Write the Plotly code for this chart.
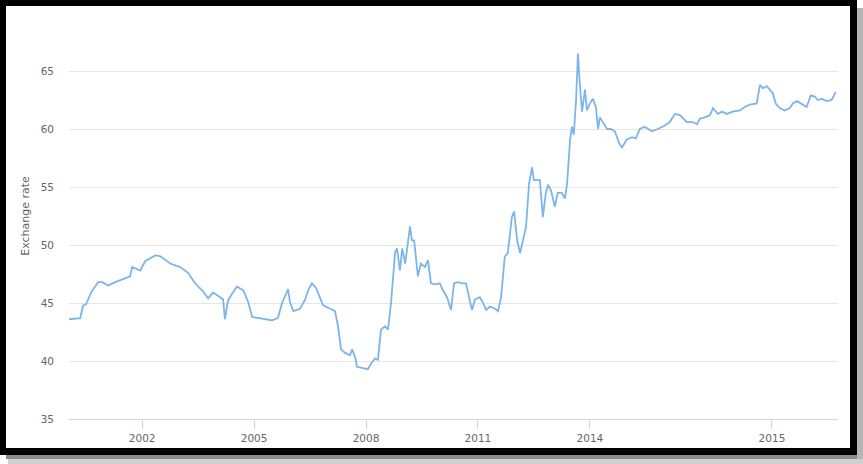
import plotly.graph_objects as go

# Time (decimal year) and exchange-rate values
years = [
    2000.04, 2000.34, 2000.42, 2000.50, 2000.63, 2000.82, 2000.93, 2001.09, 2001.28, 2001.54,
    2001.68, 2001.73, 2001.95, 2002.08, 2002.35, 2002.48, 2002.75, 2003.02, 2003.23, 2003.42,
    2003.63, 2003.77, 2003.90, 2004.09, 2004.17, 2004.22, 2004.30, 2004.41, 2004.54, 2004.71,
    2004.84, 2004.95, 2005.11, 2005.29, 2005.48, 2005.64, 2005.75, 2005.86, 2005.91, 2005.96,
    2006.05, 2006.23, 2006.37, 2006.45, 2006.55, 2006.66, 2006.77, 2006.85, 2007.04, 2007.17,
    2007.25, 2007.33, 2007.44, 2007.57, 2007.63, 2007.71, 2007.76, 2007.89, 2008.05, 2008.16,
    2008.24, 2008.32, 2008.40, 2008.51, 2008.59, 2008.67, 2008.78, 2008.83, 2008.91, 2008.97,
    2009.05, 2009.18, 2009.23, 2009.29, 2009.39, 2009.47, 2009.58, 2009.66, 2009.74, 2009.85,
    2009.98, 2010.06, 2010.17, 2010.28, 2010.36, 2010.47, 2010.57, 2010.68, 2010.76, 2010.84,
    2010.92, 2011.05, 2011.14, 2011.22, 2011.32, 2011.46, 2011.54, 2011.62, 2011.72, 2011.80,
    2011.86, 2011.91, 2011.97, 2012.05, 2012.13, 2012.21, 2012.29, 2012.37, 2012.45, 2012.50,
    2012.66, 2012.74, 2012.82, 2012.88, 2012.96, 2013.06, 2013.14, 2013.25, 2013.33, 2013.39,
    2013.47, 2013.52, 2013.57, 2013.63, 2013.68, 2013.73, 2013.79, 2013.87, 2013.92, 2014.00,
    2014.08, 2014.16, 2014.22, 2014.27, 2014.35, 2014.46, 2014.56, 2014.67, 2014.78, 2014.86,
    2014.99, 2015.13, 2015.23, 2015.34, 2015.47, 2015.66, 2015.82, 2016.01, 2016.14, 2016.28,
    2016.41, 2016.60, 2016.76, 2016.87, 2016.95, 2017.08, 2017.22, 2017.30, 2017.43, 2017.54,
    2017.67, 2017.83, 2018.02, 2018.15, 2018.29, 2018.47, 2018.56, 2018.64, 2018.74, 2018.82,
    2018.90, 2018.98, 2019.09, 2019.22, 2019.36, 2019.44, 2019.55, 2019.71, 2019.81, 2019.92,
    2020.03, 2020.11, 2020.22, 2020.35, 2020.48, 2020.59,
]
rates = [
    43.6, 43.7, 44.8, 44.9, 45.9, 46.8, 46.8, 46.5, 46.8, 47.1,
    47.3, 48.1, 47.8, 48.6, 49.1, 49.05, 48.4, 48.1, 47.6, 46.7,
    46.0, 45.4, 45.9, 45.5, 45.3, 43.6, 45.2, 45.8, 46.4, 46.1,
    45.1, 43.8, 43.7, 43.6, 43.5, 43.7, 45.0, 45.8, 46.2, 45.1,
    44.3, 44.5, 45.3, 46.1, 46.7, 46.3, 45.5, 44.8, 44.5, 44.3,
    43.0, 41.0, 40.7, 40.5, 41.0, 40.3, 39.5, 39.4, 39.3, 39.9,
    40.2, 40.1, 42.7, 43.0, 42.7, 45.0, 49.4, 49.7, 47.8, 49.7,
    48.4, 51.6, 50.4, 50.4, 47.3, 48.4, 48.1, 48.7, 46.7, 46.6,
    46.7, 46.1, 45.5, 44.4, 46.7, 46.8, 46.7, 46.7, 45.5, 44.4,
    45.3, 45.5, 45.0, 44.4, 44.7, 44.5, 44.3, 45.5, 49.0, 49.3,
    51.0, 52.4, 52.9, 50.4, 49.3, 50.4, 51.6, 55.3, 56.7, 55.6,
    55.6, 52.4, 54.5, 55.2, 54.7, 53.3, 54.5, 54.5, 54.0, 55.3,
    59.1, 60.2, 59.5, 62.5, 66.5, 63.9, 61.5, 63.4, 61.6, 62.2,
    62.6, 61.9, 60.0, 61.0, 60.6, 60.0, 60.0, 59.8, 58.8, 58.4,
    59.1, 59.3, 59.2, 60.0, 60.2, 59.8, 60.0, 60.3, 60.6, 61.3,
    61.2, 60.6, 60.6, 60.4, 60.9, 61.0, 61.2, 61.8, 61.3, 61.5,
    61.3, 61.5, 61.6, 61.9, 62.1, 62.2, 63.8, 63.5, 63.7, 63.4,
    63.1, 62.2, 61.8, 61.6, 61.8, 62.2, 62.4, 62.1, 61.9, 62.9,
    62.8, 62.5, 62.6, 62.4, 62.5, 63.2,
]

x_tick_vals = [2002, 2005, 2008, 2011, 2014, 2018.88]
x_tick_text = ["2002", "2005", "2008", "2011", "2014", "2015"]
y_tick_vals = [35, 40, 45, 50, 55, 60, 65, 70]
y_tick_text = ["35", "40", "45", "50", "55", "60", "65", ""]

W, H = 863, 464
L, R, T, B = 69, 25, 13, 45
pw, ph = W - L - R, H - T - B


def px(x):
    return (x - L) / pw


def py(y):
    return (H - B - y) / ph


fig = go.Figure()
fig.add_trace(go.Scatter(
    x=years, y=rates, mode="lines",
    line=dict(color="#7cb5ec", width=1.8),
    hoverinfo="x+y", showlegend=False,
))

shapes = [
    # black frame
    dict(type="rect", xref="paper", yref="paper", x0=px(0), x1=px(857), y0=py(455), y1=py(0),
         fillcolor="#000000", line_width=0, layer="below"),
    # white card
    dict(type="rect", xref="paper", yref="paper", x0=px(6), x1=px(850), y0=py(448), y1=py(6),
         fillcolor="#ffffff", line_width=0, layer="below"),
    # shadow
    dict(type="rect", xref="paper", yref="paper", x0=px(6), x1=px(863), y0=py(459), y1=py(455),
         fillcolor="#8a8a8a", line_width=0, layer="below"),
    dict(type="rect", xref="paper", yref="paper", x0=px(8), x1=px(863), y0=py(464), y1=py(459),
         fillcolor="#cfcfcf", line_width=0, layer="below"),
    dict(type="rect", xref="paper", yref="paper", x0=px(857), x1=px(863), y0=py(459), y1=py(8),
         fillcolor="#b5b5b5", line_width=0, layer="below"),
]

font = dict(family="DejaVu Sans", size=10.5, color="#666666")

fig.update_layout(
    width=W, height=H,
    margin=dict(l=L, r=R, t=T, b=B, pad=0),
    paper_bgcolor="#ffffff", plot_bgcolor="#ffffff",
    shapes=shapes,
    font=font,
    xaxis=dict(
        range=[2000.04, 2020.65], tickmode="array", tickvals=x_tick_vals, ticktext=x_tick_text,
        showgrid=False, zeroline=False, showline=True, linecolor="#ccd6eb", linewidth=1,
        ticks="outside", ticklen=9, tickcolor="#ccd6eb", tickwidth=1,
        tickfont=font, fixedrange=True,
    ),
    yaxis=dict(
        range=[35, 70], tickmode="array", tickvals=y_tick_vals, ticktext=y_tick_text,
        showgrid=True, gridcolor="#e6e6e6", gridwidth=1, zeroline=False, showline=False,
        ticks="", ticklabelstandoff=14, tickfont=font,
        title=dict(text="Exchange rate", font=dict(family="DejaVu Sans", size=11, color="#666666"),
                   standoff=8),
        fixedrange=True,
    ),
)

fig.write_html("out.html")
